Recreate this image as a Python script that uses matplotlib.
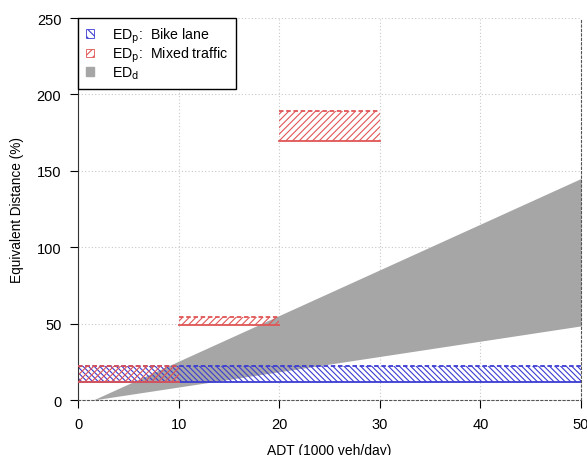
import matplotlib
matplotlib.use("Agg")
import matplotlib.pyplot as plt
from matplotlib.patches import Patch

plt.rcParams['font.family'] = ['Liberation Sans', 'DejaVu Sans']
plt.rcParams['hatch.linewidth'] = 0.8

# ED_p bands: (x start, x end, lower, upper)
bike_x = [0, 50]
bike_lo = 12
bike_hi = 22

mixed_x = [[0, 10], [10, 20], [20, 30]]
mixed_lo = [12, 49, 169.5]
mixed_hi = [22, 54, 189]

# ED_d region
edd_x = [1.5, 50]
edd_lo = [0, 48.5]
edd_hi = [0, 145]

blue = '#3c3cd2'
red = '#e05555'
gray = '#a6a6a6'

fig = plt.figure(figsize=(5.87, 4.56), dpi=100)
ax = fig.add_axes([0.1329, 0.1206, 0.8569, 0.8377])

ax.fill_between(edd_x, edd_lo, edd_hi, color=gray, lw=0, zorder=1)

# bike lane
ax.fill_between(bike_x, bike_lo, bike_hi, facecolor='none', edgecolor=blue,
                hatch='\\' * 6, lw=0, zorder=2)
ax.plot(bike_x, [bike_lo] * 2, color=blue, lw=1.3, zorder=3)
ax.plot(bike_x, [bike_hi] * 2, color=blue, lw=1.3, ls=(0, (2.5, 1.5)), zorder=3)

# mixed traffic
for xs, lo, hi in zip(mixed_x, mixed_lo, mixed_hi):
    ax.fill_between(xs, lo, hi, facecolor='none', edgecolor=red,
                    hatch='/' * 5, lw=0, zorder=2)
    ax.plot(xs, [lo] * 2, color=red, lw=1.3, zorder=3)
    ax.plot(xs, [hi] * 2, color=red, lw=1.3, ls=(0, (2.5, 1.5)), zorder=3)

ax.set_xlim(0, 50)
ax.set_ylim(0, 250)
ax.set_xticks([0, 10, 20, 30, 40, 50])
ax.set_yticks([0, 50, 100, 150, 200, 250])
ax.grid(True, color='#c8c8c8', ls=(0, (1, 2)), lw=0.8)
ax.set_axisbelow(True)

for s in ['bottom', 'right']:
    ax.spines[s].set_color('#555555')
    ax.spines[s].set_linestyle((0, (2, 2)))
    ax.spines[s].set_linewidth(0.8)
ax.spines['left'].set_color('#333333')
ax.spines['left'].set_linewidth(0.8)
ax.spines['top'].set_visible(False)
ax.tick_params(direction='out', length=6, width=0.8, labelsize=10.5, pad=6)

ax.set_xlabel('ADT (1000 veh/day)', fontsize=10, labelpad=9)
ax.set_ylabel('Equivalent Distance (%)', fontsize=9.8, labelpad=9)

handles = [
    Patch(facecolor='white', edgecolor=blue, hatch='\\' * 4, lw=0.6),
    Patch(facecolor='white', edgecolor=red, hatch='////', lw=0.6),
    Patch(facecolor=gray, edgecolor=gray),
]
labels = [r'ED$_\mathrm{p}$:  Bike lane', r'ED$_\mathrm{p}$:  Mixed traffic',
          r'ED$_\mathrm{d}$']
leg = ax.legend(handles, labels, loc='upper left', borderaxespad=0,
                fancybox=False, edgecolor='black', framealpha=1,
                handlelength=0.55, handleheight=0.55, handletextpad=1.3,
                labelspacing=0.0, fontsize=10.2, borderpad=0.55)
leg.get_frame().set_linewidth(1.0)

fig.savefig('out.png', dpi=100)
